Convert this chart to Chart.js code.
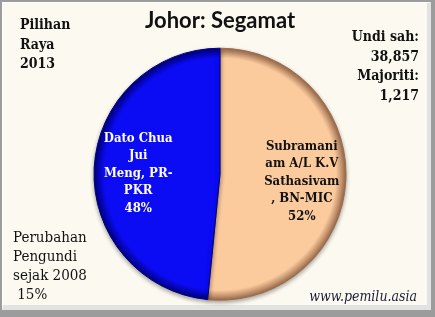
<!DOCTYPE html>
<html>
<head>
<meta charset="utf-8">
<script src="https://cdn.jsdelivr.net/npm/chart.js@4.4.1/dist/chart.umd.min.js"></script>
<style>
  body { margin: 0; background: #fff; }
  #frame { position: absolute; left: 0; top: 0; width: 435px; height: 317px; background: #9c9c9c; }
  #panel { position: absolute; left: 2px; top: 2px; width: 424px; height: 302px;
           background: #fcfaf0; border-top: 1px solid #fff; border-left: 1px solid #fff;
           border-right: 4px solid #e2e2e2; border-bottom: 5px solid #e2e2e2; }
  canvas { position: absolute; left: 0; top: 0; }
  .note { position: absolute; font-family: "DejaVu Serif Condensed", "DejaVu Serif", serif; font-stretch: condensed; color: #111; line-height: 19.5px; }
  .bold { font-weight: bold; font-size: 14px; }
</style>
</head>
<body>
<div id="frame"><div id="panel"></div></div>
<canvas id="chart" width="435" height="317"></canvas>
<div class="note bold" style="left:20px; top:15px;">Pilihan<br>Raya<br>2013</div>
<div class="note bold" style="right:16px; top:27px; text-align:right;">Undi sah:<br>38,857<br>Majoriti:<br>1,217</div>
<div class="note" style="left:13px; top:228px; font-size:15px; line-height:19px;">Perubahan<br>Pengundi<br>sejak 2008<br>&nbsp;15%</div>
<div class="note" style="right:18px; top:287px; font-size:14px; font-style:italic; color:#1c1c3a;">www.pemilu.asia</div>
<script>
// Johor: Segamat, PRU 2013
const candidates = ['Subramaniam A/L K.V Sathasivam, BN-MIC', 'Dato Chua Jui Meng, PR-PKR'];
const votes = [20037, 18820];
const labelLines = [
  ['Subramani', 'am A/L K.V', 'Sathasivam', ', BN-MIC'],
  ['Dato Chua', 'Jui', 'Meng, PR-', 'PKR']
];
const fillColors = ['#fbca9d', '#0b0bf4'];
const edgeColors = ['#9c6c4c', '#00007c'];
const textColors = ['#111111', '#ffffff'];

const total = votes.reduce((a, b) => a + b, 0);

function sliceFill(ctx) {
  const chart = ctx.chart;
  const area = chart.chartArea;
  if (!area) return fillColors[ctx.dataIndex];
  const cx = (area.left + area.right) / 2;
  const cy = (area.top + area.bottom) / 2;
  const r = 126;
  const g = chart.ctx.createRadialGradient(cx, cy, 0, cx, cy, r);
  g.addColorStop(0, fillColors[ctx.dataIndex]);
  g.addColorStop(0.92, fillColors[ctx.dataIndex]);
  g.addColorStop(1, edgeColors[ctx.dataIndex]);
  return g;
}

const pieShadow = {
  id: 'pieShadow',
  beforeDatasetsDraw(chart) {
    const c = chart.ctx;
    c.save();
    c.shadowColor = 'rgba(0,0,0,0.35)';
    c.shadowBlur = 4;
    c.shadowOffsetY = 2;
  },
  afterDatasetsDraw(chart) {
    chart.ctx.restore();
  }
};

const sliceLabels = {
  id: 'sliceLabels',
  afterDraw(chart) {
    const c = chart.ctx;
    const arcs = chart.getDatasetMeta(0).data;
    c.save();
    c.font = 'bold 13px "DejaVu Serif Condensed", "DejaVu Serif"';
    c.textAlign = 'center';
    c.textBaseline = 'middle';
    arcs.forEach((arc, i) => {
      const p = arc.getProps(['x', 'y', 'startAngle', 'endAngle', 'outerRadius']);
      const mid = (p.startAngle + p.endAngle) / 2;
      const x = p.x + Math.cos(mid) * p.outerRadius * 0.65;
      const y = p.y + Math.sin(mid) * p.outerRadius * 0.65 + 3;
      const lines = labelLines[i].concat(Math.round(votes[i] / total * 100) + '%');
      const lh = 17.5;
      c.fillStyle = textColors[i];
      lines.forEach((t, k) => {
        c.fillText(t, x, y + (k - (lines.length - 1) / 2) * lh);
      });
    });
    c.restore();
  }
};

new Chart(document.getElementById('chart'), {
  type: 'pie',
  data: {
    labels: candidates,
    datasets: [{
      data: votes,
      backgroundColor: sliceFill,
      borderColor: edgeColors,
      borderWidth: 1,
      radius: 126
    }]
  },
  options: {
    responsive: false,
    animation: false,
    devicePixelRatio: 1,
    layout: { padding: { left: 20, right: 15, top: 0, bottom: 17 } },
    plugins: {
      legend: { display: false },
      tooltip: { enabled: false },
      title: {
        display: true,
        text: 'Johor: Segamat',
        color: '#111',
        font: { family: 'Lato', size: 22, weight: 'bold', lineHeight: 1.2 },
        padding: { top: 8, bottom: 14 }
      }
    }
  },
  plugins: [pieShadow, sliceLabels]
});
</script>
</body>
</html>
